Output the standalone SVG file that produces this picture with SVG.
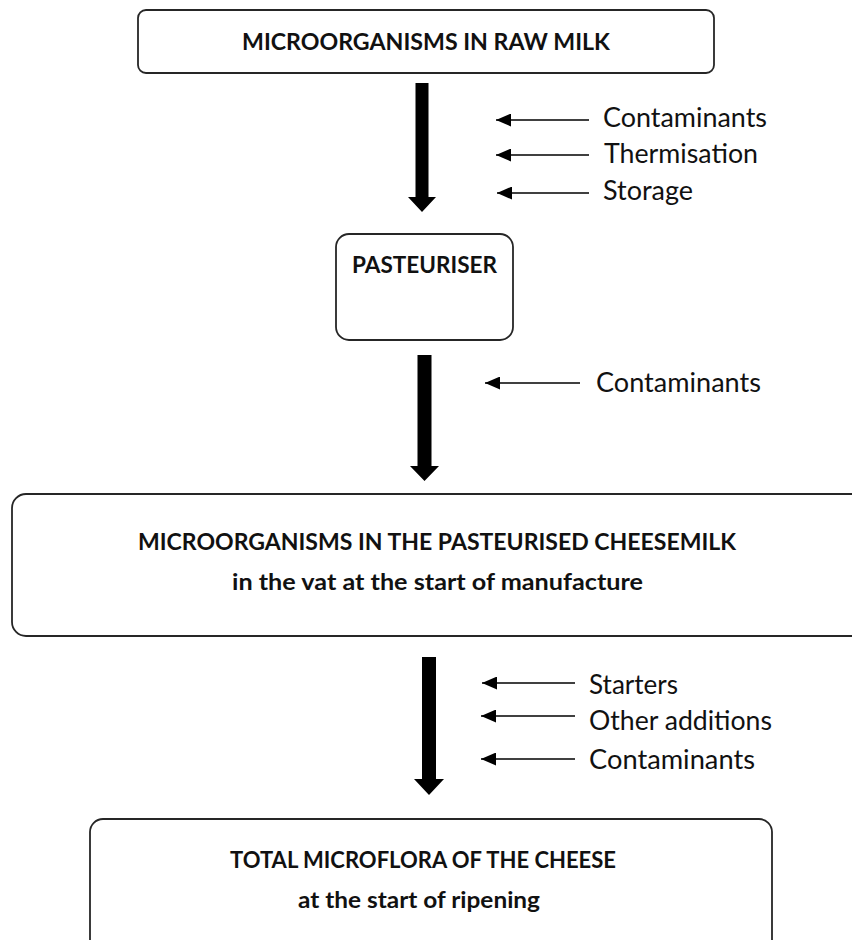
<svg xmlns="http://www.w3.org/2000/svg" width="852" height="940" viewBox="0 0 852 940">
<defs>
<style>
.box{fill:#fff;stroke:#262626;stroke-width:1.8}
.b{font-family:Lato,"Open Sans","Liberation Sans",sans-serif;font-weight:bold;font-size:22px;fill:#111}
.r{font-family:Lato,"Open Sans","Liberation Sans",sans-serif;font-size:27px;fill:#111}
.thick{fill:#000}
.thin{stroke:#000;stroke-width:1.6;fill:none;marker-end:url(#ah)}
</style>
<marker id="ah" markerUnits="userSpaceOnUse" markerWidth="15" markerHeight="13" viewBox="0 0 15 13" refX="15" refY="6.5" orient="auto">
<path d="M0,0 L15,6.5 L0,13 Z" fill="#000"/>
</marker>
</defs>
<rect width="852" height="940" fill="#fff"/>

<g id="raw-milk">
<rect class="box" x="138" y="10" width="576" height="63" rx="8"/>
<text class="b" x="242" y="50" textLength="368" lengthAdjust="spacingAndGlyphs">MICROORGANISMS IN RAW MILK</text>
</g>

<g id="pasteuriser">
<rect class="box" x="336" y="234" width="177" height="106" rx="13"/>
<text class="b" x="352" y="273" textLength="145" lengthAdjust="spacingAndGlyphs">PASTEURISER</text>
</g>

<g id="cheesemilk">
<rect class="box" x="12" y="494" width="860" height="142" rx="14"/>
<text class="b" x="138" y="550" textLength="598" lengthAdjust="spacingAndGlyphs">MICROORGANISMS IN THE PASTEURISED CHEESEMILK</text>
<text class="b" x="232" y="590" textLength="411" lengthAdjust="spacingAndGlyphs">in the vat at the start of manufacture</text>
</g>

<g id="cheese">
<rect class="box" x="90" y="819" width="682" height="150" rx="13"/>
<text class="b" x="230" y="868" textLength="386" lengthAdjust="spacingAndGlyphs">TOTAL MICROFLORA OF THE CHEESE</text>
<text class="b" x="298" y="908" textLength="242" lengthAdjust="spacingAndGlyphs">at the start of ripening</text>
</g>

<g id="inputs">
<text class="r" x="603" y="127" textLength="164" lengthAdjust="spacingAndGlyphs">Contaminants</text>
<text class="r" x="604" y="163" textLength="154" lengthAdjust="spacingAndGlyphs">Thermisation</text>
<text class="r" x="603" y="200" textLength="90" lengthAdjust="spacingAndGlyphs">Storage</text>
<text class="r" x="596" y="392" textLength="165" lengthAdjust="spacingAndGlyphs">Contaminants</text>
<text class="r" x="589" y="694" textLength="89" lengthAdjust="spacingAndGlyphs">Starters</text>
<text class="r" x="589" y="730" textLength="183" lengthAdjust="spacingAndGlyphs">Other additions</text>
<text class="r" x="589" y="769" textLength="166" lengthAdjust="spacingAndGlyphs">Contaminants</text>
</g>

<g id="connectors">
<path class="thick" d="M415.5,83 H428.5 V197 H436 L422,212 L408,197 H415.5 Z"/>
<path class="thick" d="M417.5,355 H431.5 V466 H439 L424.5,481 L410,466 H417.5 Z"/>
<path class="thick" d="M422,657 H436 V779 H444 L429,795 L414,779 H422 Z"/>
<line class="thin" x1="589" y1="120" x2="496" y2="120"/>
<line class="thin" x1="589" y1="155" x2="496" y2="155"/>
<line class="thin" x1="589" y1="193" x2="497" y2="193"/>
<line class="thin" x1="580" y1="383" x2="485" y2="383"/>
<line class="thin" x1="575" y1="683" x2="482" y2="683"/>
<line class="thin" x1="575" y1="716" x2="481" y2="716"/>
<line class="thin" x1="575" y1="759" x2="481" y2="759"/>
</g>
</svg>
